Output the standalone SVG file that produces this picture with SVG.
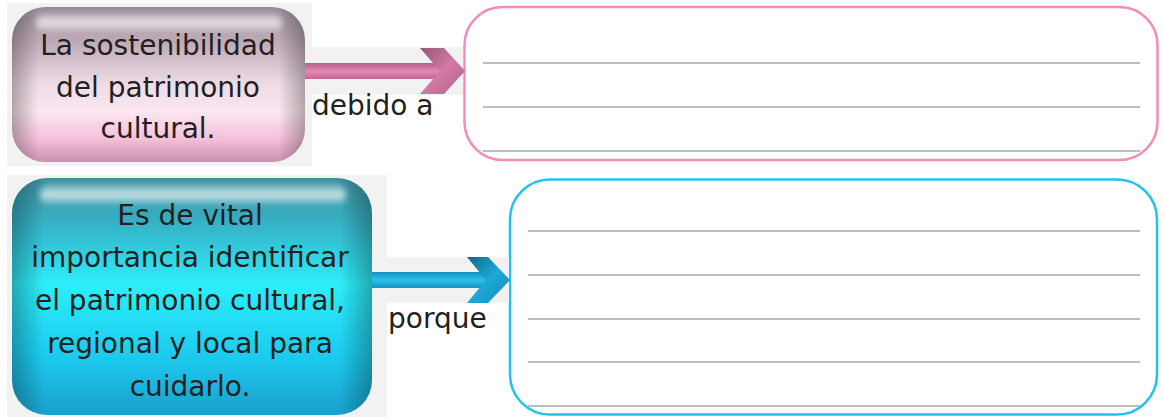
<svg xmlns="http://www.w3.org/2000/svg" width="1164" height="417" viewBox="0 0 1164 417">
<style>
.t{font-family:"DejaVu Sans","Liberation Sans",sans-serif;font-size:28px;fill:#231f20;text-anchor:middle}
.lbl{font-family:"DejaVu Sans","Liberation Sans",sans-serif;font-size:28px;fill:#231f20}
.bg{fill:#f2f2f2}
.rule{stroke:#a8a8a8;stroke-width:1.6}
</style>
<defs>
<filter id="soft" x="-10%" y="-50%" width="120%" height="200%">
<feGaussianBlur stdDeviation="3"/>
</filter>
<linearGradient id="pinkV" x1="0" y1="0" x2="0" y2="1">
<stop offset="0" stop-color="#978a94"/>
<stop offset="0.25" stop-color="#c3aebb"/>
<stop offset="0.5" stop-color="#eedce6"/>
<stop offset="0.68" stop-color="#fbe6f0"/>
<stop offset="0.85" stop-color="#f6c0da"/>
<stop offset="1" stop-color="#c892ad"/>
</linearGradient>
<linearGradient id="blueV" x1="0" y1="0" x2="0" y2="1">
<stop offset="0" stop-color="#3f8c9c"/>
<stop offset="0.2" stop-color="#35b4c8"/>
<stop offset="0.45" stop-color="#2ceefa"/>
<stop offset="0.75" stop-color="#1ccbef"/>
<stop offset="1" stop-color="#1a9fcc"/>
</linearGradient>
<linearGradient id="edgeH" x1="0" y1="0" x2="1" y2="0">
<stop offset="0" stop-color="#000" stop-opacity="0.28"/>
<stop offset="0.09" stop-color="#000" stop-opacity="0"/>
<stop offset="0.91" stop-color="#000" stop-opacity="0"/>
<stop offset="1" stop-color="#000" stop-opacity="0.28"/>
</linearGradient>
<linearGradient id="gloss" x1="0" y1="0" x2="0" y2="1">
<stop offset="0" stop-color="#fff" stop-opacity="0.2"/>
<stop offset="0.5" stop-color="#fff" stop-opacity="0.75"/>
<stop offset="1" stop-color="#fff" stop-opacity="0"/>
</linearGradient>
<linearGradient id="pinkShaft" x1="0" y1="0" x2="0" y2="1">
<stop offset="0" stop-color="#b06088"/>
<stop offset="0.5" stop-color="#e888b2"/>
<stop offset="1" stop-color="#c06892"/>
</linearGradient>
<linearGradient id="pinkHead" x1="0" y1="0" x2="1" y2="1">
<stop offset="0" stop-color="#955673"/>
<stop offset="0.5" stop-color="#d27aa4"/>
<stop offset="1" stop-color="#b0648a"/>
</linearGradient>
<linearGradient id="blueShaft" x1="0" y1="0" x2="0" y2="1">
<stop offset="0" stop-color="#1590c0"/>
<stop offset="0.5" stop-color="#2ac0ec"/>
<stop offset="1" stop-color="#1794c4"/>
</linearGradient>
<linearGradient id="blueHead" x1="0" y1="0" x2="1" y2="1">
<stop offset="0" stop-color="#0d6888"/>
<stop offset="0.5" stop-color="#1ea8d6"/>
<stop offset="1" stop-color="#138cb8"/>
</linearGradient>
</defs>

<g id="node-sostenibilidad">
<rect class="bg" x="7" y="3" width="305" height="163"/>
<rect x="12" y="7" width="293" height="155" rx="33" fill="url(#pinkV)"/>
<rect x="12" y="7" width="293" height="155" rx="33" fill="url(#edgeH)"/>
<rect x="36" y="13" width="246" height="20" rx="10" fill="url(#gloss)" filter="url(#soft)"/>
<text class="t" x="158" y="55">La sostenibilidad</text>
<text class="t" x="158" y="97">del patrimonio</text>
<text class="t" x="158" y="138">cultural.</text>
</g>

<g id="node-importancia">
<rect class="bg" x="7" y="175" width="380" height="242"/>
<rect x="12" y="178" width="360" height="237" rx="35" fill="url(#blueV)"/>
<rect x="12" y="178" width="360" height="237" rx="35" fill="url(#edgeH)"/>
<rect x="40" y="184" width="306" height="22" rx="11" fill="url(#gloss)" filter="url(#soft)"/>
<text class="t" x="190" y="225">Es de vital</text>
<text class="t" x="190" y="267">importancia identificar</text>
<text class="t" x="190" y="310">el patrimonio cultural,</text>
<text class="t" x="190" y="353">regional y local para</text>
<text class="t" x="190" y="396">cuidarlo.</text>
</g>

<g id="node-respuesta1">
<rect x="464.5" y="7" width="693" height="153" rx="38" fill="#fff" stroke="#f28dba" stroke-width="2.5"/>
<line class="rule" x1="483" y1="63" x2="1140" y2="63"/>
<line class="rule" x1="483" y1="107" x2="1140" y2="107"/>
<line class="rule" x1="483" y1="151" x2="1140" y2="151"/>
</g>

<g id="node-respuesta2">
<rect x="510" y="179.5" width="647" height="235" rx="40" fill="#fff" stroke="#1fc3ee" stroke-width="2.5"/>
<line class="rule" x1="528" y1="231" x2="1140" y2="231"/>
<line class="rule" x1="528" y1="275" x2="1140" y2="275"/>
<line class="rule" x1="528" y1="319" x2="1140" y2="319"/>
<line class="rule" x1="528" y1="362" x2="1140" y2="362"/>
<line class="rule" x1="528" y1="406" x2="1140" y2="406"/>
</g>

<g id="connectors">
<g id="arrow-debido">
<rect class="bg" x="305" y="47" width="158" height="48"/>
<rect x="305" y="63" width="142" height="16" fill="url(#pinkShaft)"/>
<polygon points="420,48 444,48 465,71 444,94 420,94 440,71" fill="url(#pinkHead)"/>
<text class="lbl" x="312" y="115">debido a</text>
</g>
<g id="arrow-porque">
<rect class="bg" x="372" y="257" width="137" height="46"/>
<rect x="372" y="272" width="120" height="16" fill="url(#blueShaft)"/>
<polygon points="467,257 488,257 510,280 488,303 467,303 486,280" fill="url(#blueHead)"/>
<text class="lbl" x="388" y="328">porque</text>
</g>
</g>
</svg>
